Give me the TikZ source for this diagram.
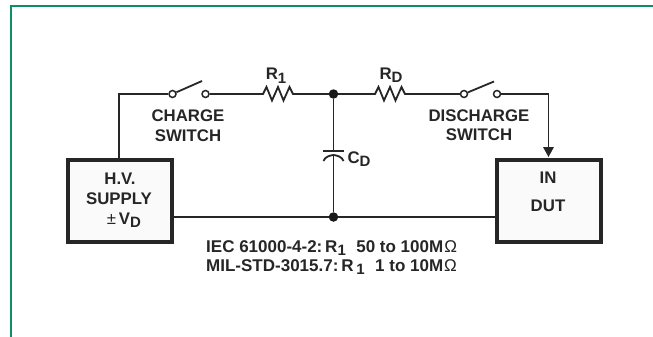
\documentclass[tikz,border=0pt]{standalone}
\usepackage{fontspec}
\setmainfont{Liberation Sans}
\definecolor{framegreen}{HTML}{0E8F63}
\newcommand{\subs}[1]{\raisebox{-3.5pt}{\fontsize{15}{15}\selectfont #1}}
\tikzset{
  wire/.style={line width=1.8pt,draw=black!85},
  term/.style={circle,draw=black!85,fill=white,line width=1.5pt,inner sep=0pt,minimum size=7pt},
  junct/.style={circle,fill=black!90,inner sep=0pt,minimum size=9.5pt},
  block/.style={draw=black!85,fill=black!2,line width=4pt,minimum width=104pt,minimum height=82pt},
  lab/.style={font=\fontsize{16.8}{18}\selectfont\bfseries,text=black!85,inner sep=0pt,anchor=base},
  note/.style={lab,font=\fontsize{17}{18}\selectfont\bfseries,anchor=base west},
  zig/.style={wire,line join=miter},
}
\begin{document}
\begin{tikzpicture}[x=1pt,y=-1pt]
  \useasboundingbox (0,0) rectangle (653,337);
  \fill[white] (0,0) rectangle (653,337);
  \draw[framegreen,line width=2pt] (11,337) -- (11,6) -- (653,6);
  \draw
    (120,201) node[block] (supply){}
    (548.5,201) node[block] (dut){}
    (172.5,94) node[term] (cha){}
    (205.5,94) node[term] (chb){}
    (464,94) node[term] (disa){}
    (497,94) node[term] (disb){}
    (333.5,94) node[junct] (top){}
    (333.5,217) node[junct] (bot){}
    (119,94) coordinate (corner)
    (548.5,94) coordinate (cornerb)
    (260,94) coordinate (ra)
    (295,94) coordinate (rb)
    (372,94) coordinate (rda)
    (408,94) coordinate (rdb)
    (333.5,151) coordinate (capa)
    (333.5,155) coordinate (capb)
    (202,81) coordinate (lever)
    (494,81.5) coordinate (leverb);
  \begin{scope}[wire]
    \draw (supply.north -| corner) to (corner) to (cha);
    \draw (chb) to (ra);
    \draw (rb) to (top);
    \draw (top) to (rda);
    \draw (rdb) to (disa);
    \draw (disb) to (cornerb) to (cornerb |- 0,147);
    \draw (top) to (capa);
    \draw (capb) to (bot);
    \draw (supply.east |- bot) to (bot);
    \draw (bot) to (dut.west |- bot);
    \draw (cha) to (lever);
    \draw (disa) to (leverb);
  \end{scope}
  % resistors
  \draw[zig] (ra) -- ++(3,0) -- ++(3.5,-7) -- ++(5.5,13.5) -- ++(6,-13.5) -- ++(5.5,13.5) -- ++(6,-13.5) -- ++(3.5,7) -- (rb);
  \draw[zig] (rda) -- ++(3,0) -- ++(3.5,-7) -- ++(5.5,13.5) -- ++(6,-13.5) -- ++(5.5,13.5) -- ++(6,-13.5) -- ++(3.5,7) -- (rdb);
  % capacitor
  \draw[wire] ([xshift=-10.5pt]capa) -- ([xshift=10.5pt]capa);
  \draw[wire] (323.5,161) .. controls (325,156.5) and (330,155.5) .. (capb) .. controls (337,155.5) and (342,156.5) .. (343.5,161);
  % arrow head
  \fill[black!85] (543,147) -- (554,147) -- (548.5,157) -- cycle;
  % labels
  \node[lab] (r1lab) at (276,80) {R\subs{1}};
  \node[lab] (rdlab) at (391,79) {R\subs{D}};
  \node[lab] (cdlab) at (359,163) {C\subs{D}};
  \node[lab] (chlab) at (188,121) {CHARGE};
  \node[lab] (chlabb) at (188,141) {SWITCH};
  \node[lab] (dislab) at (479,121) {DISCHARGE};
  \node[lab] (dislabb) at (479,140) {SWITCH};
  \node[lab] (hvlab) at (120,184) {H.V.};
  \node[lab] (suplab) at (119,204) {SUPPLY};
  \node[lab] (vdlab) at (124,224) {{\mdseries ±\,}V\subs{D}};
  \node[lab] (inlab) at (548,183) {IN};
  \node[lab] (dutlab) at (548,211) {DUT};
  \node[note] (ieclab) at (206,252) {IEC 61000-4-2:\,R\subs{1}\ \ \kern1pt 50 to 100M{\mdseries\kern1pt Ω}};
  \node[note] (millab) at (206,271) {MIL-STD-3015.7:\,R\,\subs{1}\ \ \kern1pt 1 to 10M{\mdseries\kern1pt Ω}};
\end{tikzpicture}
\end{document}
